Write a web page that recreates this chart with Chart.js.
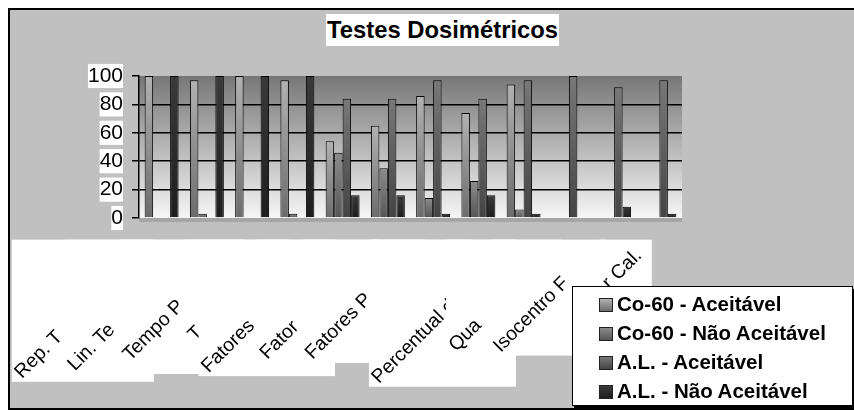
<!DOCTYPE html>
<html lang="pt">
<head>
<meta charset="utf-8">
<title>Testes Dosimétricos</title>
<script src="https://cdn.jsdelivr.net/npm/chart.js@4.4.1/dist/chart.umd.min.js"></script>
<style>
    html, body { margin: 0; padding: 0; background: #fff; }
    #wrap { position: relative; width: 854px; height: 412px; overflow: hidden; font-family: "Liberation Sans", Arial, sans-serif; }
    #grafico { position: absolute; left: 0; top: 0; }
    #titulo { position: absolute; left: 326px; top: 14px; margin: 0; padding: 0 1px; background: #fff; font-size: 23.8px; font-weight: bold; line-height: 32px; white-space: nowrap; }
    #legenda { position: absolute; left: 572px; top: 286px; width: 279px; height: 116px; padding-top: 2px; background: #fff; border: 1px solid #000; box-shadow: 2px 3px 0 #000; }
    .item { height: 29px; line-height: 29px; padding-left: 26px; font-size: 20.5px; font-weight: bold; white-space: nowrap; }
    .cor { display: inline-block; width: 12px; height: 12px; margin-right: 4px; border: 1px solid #222; vertical-align: -1px; }
</style>
</head>
<body>
<div id="wrap">
    <canvas id="grafico" width="854" height="412"></canvas>
    <h1 id="titulo">Testes Dosimétricos</h1>
    <div id="legenda"></div>
</div>
<script>
// Dados do gráfico (em %)
const categorias = ['Rep. T', 'Lin. Te', 'Tempo P', 'T', 'Fatores', 'Fator', 'Fatores P', '', 'Percentual d', 'Qua', 'Isocentro F', 'r Cal.'];
const series = ['Co-60 - Aceitável', 'Co-60 - Não Aceitável', 'A.L. - Aceitável', 'A.L. - Não Aceitável'];
const co60Aceitavel    = [100, 97, 100, 97, 54, 65, 86, 74, 94, 0, 0, 0];
const co60NaoAceitavel = [0, 3, 0, 3, 46, 35, 14, 26, 6, 0, 0, 0];
const alAceitavel      = [0, 0, 0, 0, 84, 84, 97, 84, 97, 100, 92, 97];
const alNaoAceitavel   = [100, 100, 100, 100, 16, 16, 3, 16, 3, 0, 8, 3];
const ticksY = [0, 20, 40, 60, 80, 100];

// Estilos
const FONTE = '"Liberation Sans", Arial, sans-serif';
const coresSeries = [
    ['#b2b2b2', '#6c6c6c'],
    ['#8c8c8c', '#565656'],
    ['#787878', '#444444'],
    ['#3a3a3a', '#1e1e1e']
];
// comprimento (px) de cada rótulo do eixo X, incluindo a parte encoberta
const larguraRotulos = [183, 172, 158, 130, 175, 156, 156, 120, 190, 145, 146, 56];

// preenchimento em degradê para cada barra
function degradeBarra(cores) {
    return function(context) {
        const chart = context.chart;
        const y = chart.scales.y;
        if (!y || context.type !== 'data') return cores[1];
        const topo = y.getPixelForValue(context.raw);
        const base = y.getPixelForValue(0);
        if (!Number.isFinite(topo) || !Number.isFinite(base) || base - topo < 1) return cores[1];
        const g = chart.ctx.createLinearGradient(0, topo, 0, base);
        g.addColorStop(0, cores[0]);
        g.addColorStop(1, cores[1]);
        return g;
    };
}

// fundo da figura e da área de plotagem
const fundo = {
    id: 'fundo',
    beforeDraw(chart) {
        const { ctx, chartArea: a, width } = chart;
        ctx.save();
        ctx.fillStyle = '#fff';
        ctx.fillRect(0, 0, width, chart.height);
        ctx.fillStyle = '#c0c0c0';
        ctx.fillRect(9, 9, width, 400);
        ctx.strokeStyle = '#000';
        ctx.lineWidth = 2;
        ctx.strokeRect(9, 9, width + 10, 400);

        if (a) {
            const g = ctx.createLinearGradient(0, a.top, 0, a.bottom);
            g.addColorStop(0, '#777777');
            g.addColorStop(1, '#f6f6f6');
            ctx.fillStyle = g;
            ctx.fillRect(a.left, a.top, a.right - a.left, a.bottom - a.top);
            // "piso" 3D
            ctx.fillStyle = '#a6a6a6';
            ctx.fillRect(a.left, a.bottom, a.right - a.left, 4);
        }
        ctx.restore();
    }
};

// rótulos do eixo X girados 45°, cada um com sua caixa branca
const rotulosX = {
    id: 'rotulosX',
    afterDraw(chart, args, opts) {
        const { ctx } = chart;
        const x = chart.scales.x;
        const c = Math.SQRT1_2;
        const meia = opts.meiaAltura;
        ctx.save();
        ctx.font = opts.font;
        chart.data.labels.forEach((rotulo, i) => {
            const larg = opts.larguras[i];
            const ex = x.getPixelForTick(i) + opts.deslocX;
            const ey = x.top + opts.deslocY;
            const esq = ex - larg * c - meia * c;
            const dir = ex + meia * c;
            const topo = ey - meia * c;
            const baixo = ey + larg * c + meia * c;
            ctx.fillStyle = '#fff';
            ctx.fillRect(esq, topo, dir - esq, baixo - topo);

            ctx.save();
            ctx.translate(ex, ey);
            ctx.rotate(-Math.PI / 4);
            ctx.textAlign = 'left';
            ctx.textBaseline = 'middle';
            ctx.fillStyle = '#000';
            ctx.fillText(rotulo, -larg, 0);
            ctx.restore();
        });
        ctx.restore();
    }
};

const dadosSeries = [co60Aceitavel, co60NaoAceitavel, alAceitavel, alNaoAceitavel];

const grafico = new Chart(document.getElementById('grafico'), {
    type: 'bar',
    data: {
        labels: categorias,
        datasets: series.map((nome, i) => ({
            label: nome,
            data: dadosSeries[i],
            backgroundColor: degradeBarra(coresSeries[i]),
            borderColor: '#000',
            borderWidth: 1
        }))
    },
    options: {
        responsive: false,
        animation: false,
        layout: {
            padding: { left: 80, right: 172, top: 76, bottom: 0 }
        },
        datasets: {
            bar: { categoryPercentage: 0.75, barPercentage: 1 }
        },
        plugins: {
            legend: { display: false },
            title: { display: false },
            tooltip: { enabled: false },
            rotulosX: {
                larguras: larguraRotulos,
                font: '19.5px ' + FONTE,
                meiaAltura: 9,
                deslocX: -14,
                deslocY: 28
            }
        },
        scales: {
            x: {
                grid: { display: false },
                border: { display: false },
                ticks: { display: false },
                afterFit: function(scale) { scale.height = 194; }
            },
            y: {
                min: 0,
                max: 100,
                afterBuildTicks: function(scale) {
                    scale.ticks = ticksY.map(v => ({ value: v }));
                },
                afterFit: function(scale) { scale.width = 59; },
                border: { display: true, color: '#000', width: 1.5 },
                grid: {
                    color: c => (c.tick && c.tick.value % 100 === 0) ? 'rgba(0,0,0,0)' : '#000',
                    tickColor: '#000',
                    lineWidth: 1.5,
                    tickLength: 7
                },
                ticks: {
                    padding: 9,
                    color: '#000',
                    font: { family: FONTE, size: 21, lineHeight: 1.15 },
                    showLabelBackdrop: true,
                    backdropColor: '#fff',
                    backdropPadding: 0
                }
            }
        }
    },
    plugins: [fundo, rotulosX]
});

// legenda em HTML, montada a partir dos datasets
const legenda = document.getElementById('legenda');
grafico.data.datasets.forEach((ds, i) => {
    const item = document.createElement('div');
    item.className = 'item';
    const cor = document.createElement('span');
    cor.className = 'cor';
    cor.style.background = 'linear-gradient(' + coresSeries[i][0] + ', ' + coresSeries[i][1] + ')';
    item.appendChild(cor);
    item.appendChild(document.createTextNode(ds.label));
    legenda.appendChild(item);
});
</script>
</body>
</html>
